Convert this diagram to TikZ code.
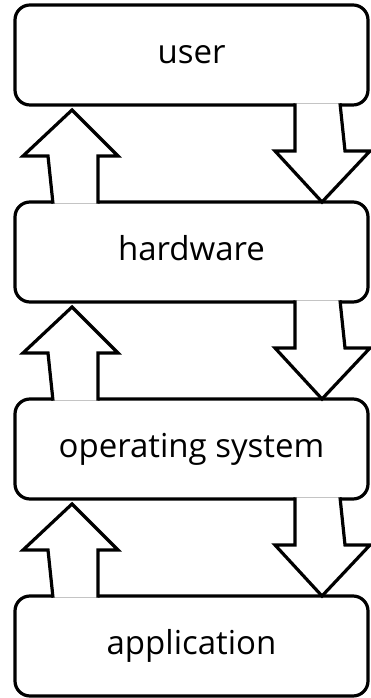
\documentclass[tikz,border=0pt]{standalone}
\usepackage{fontspec}
\setmainfont{Open Sans}
\usepackage{tikz}
\usetikzlibrary{positioning}

\begin{document}
\begin{tikzpicture}[
    x=1pt, y=1pt,
    node distance=97pt,
    box/.style={rectangle, draw, line width=3.2pt, rounded corners=15pt, minimum width=353pt, minimum height=100pt, outer sep=0pt, text height=17pt, text depth=0pt, align=center, font=\fontsize{33}{40}\selectfont},
    blockarrow/.style={draw, fill=white, line width=3.2pt, line join=miter}
]
    \useasboundingbox (0,0) rectangle (371,698);

    \node[box] (user) at (191.5,643) {user};
    \node[box, below=of user] (hw) {hardware};
    \node[box, below=of hw] (os) {operating system};
    \node[box, below=of os] (app) {application};

    \foreach \up/\lo in {user/hw, hw/os, os/app} {
        % down arrow
        \draw[blockarrow] ([shift={(280pt,1.7pt)}]\up.south west) -- ([shift={(280pt,-46pt)}]\up.south west)
            -- ([shift={(260pt,-46pt)}]\up.south west) -- ([xshift=307pt]\lo.north west)
            -- ([shift={(355pt,-46pt)}]\up.south west) -- ([shift={(330pt,-46pt)}]\up.south west)
            -- ([shift={(325pt,1.7pt)}]\up.south west);
        % up arrow
        \draw[blockarrow] ([shift={(38pt,-1.7pt)}]\lo.north west) -- ([shift={(33pt,46pt)}]\lo.north west)
            -- ([shift={(8pt,46pt)}]\lo.north west) -- ([shift={(57pt,92pt)}]\lo.north west)
            -- ([shift={(103pt,46pt)}]\lo.north west) -- ([shift={(83pt,46pt)}]\lo.north west)
            -- ([shift={(83pt,-1.7pt)}]\lo.north west);
    }
\end{tikzpicture}
\end{document}
